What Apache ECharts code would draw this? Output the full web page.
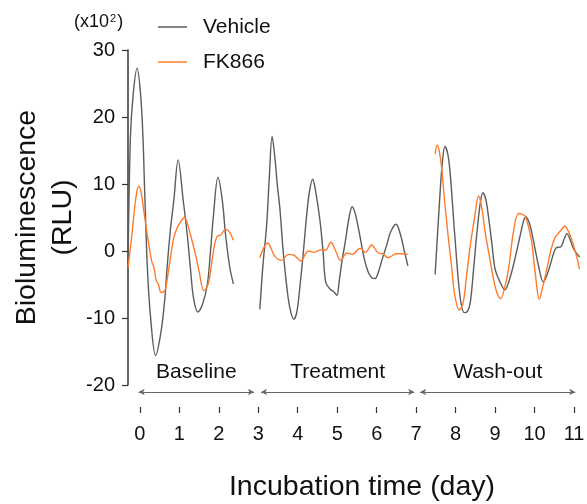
<!DOCTYPE html>
<html>
<head>
<meta charset="utf-8">
<script src="https://cdn.jsdelivr.net/npm/echarts@6/dist/echarts.min.js"></script>
<style>
  html, body { margin: 0; padding: 0; background: #fff; }
  #main { width: 587px; height: 504px; }
</style>
</head>
<body>
<div id="main"></div>
<script>
// values: [day, RLU x10^2]
var vehicleBaseline = [
  [-0.30, -2.5], [-0.24, 16.8], [-0.17, 23.3], [-0.07, 27.3], [0.02, 23.3], [0.08, 16.8],
  [0.12, 9.4], [0.19, -2.4], [0.27, -9.8], [0.40, -15.6], [0.53, -12.3], [0.63, -7.3],
  [0.69, -2.5], [0.78, 3.5], [0.86, 7.5], [0.97, 13.6], [1.10, 7.5], [1.20, 2.5],
  [1.28, -2.5], [1.36, -7.0], [1.47, -9.1], [1.58, -8.1], [1.71, -5.0], [1.79, 0.0],
  [1.86, 5.0], [1.98, 11.0], [2.09, 7.5], [2.17, 2.5], [2.28, -2.5], [2.37, -4.9]
];
var fkBaseline = [
  [-0.30, -2.5], [-0.20, 2.5], [-0.11, 7.5], [-0.03, 9.7], [0.03, 8.8], [0.10, 6.0],
  [0.20, 2.0], [0.30, -1.5], [0.36, -2.5], [0.41, -4.3], [0.47, -5.0], [0.54, -6.2],
  [0.60, -6.1], [0.65, -5.7], [0.75, -2.0], [0.86, 2.0], [0.95, 3.5], [1.05, 4.5],
  [1.13, 5.0], [1.20, 4.2], [1.28, 2.5], [1.41, -0.5], [1.50, -3.0], [1.62, -5.9],
  [1.68, -5.6], [1.75, -4.5], [1.88, 0.5], [1.96, 2.2], [2.05, 2.4], [2.17, 3.2],
  [2.25, 3.0], [2.37, 1.6]
];
var vehicleTreatment = [
  [3.04, -8.7], [3.12, -2.0], [3.21, 3.7], [3.28, 11.0], [3.35, 17.1], [3.42, 14.0],
  [3.48, 10.0], [3.55, 6.2], [3.63, 0.0], [3.72, -5.2], [3.80, -8.5], [3.90, -10.2],
  [3.98, -9.0], [4.06, -5.0], [4.14, -0.3], [4.22, 5.0], [4.30, 9.0], [4.38, 10.7],
  [4.45, 9.0], [4.56, 4.7], [4.64, 0.0], [4.71, -4.7], [4.82, -5.7], [4.90, -6.0],
  [4.99, -6.6], [5.05, -4.5], [5.12, -1.5], [5.20, 1.2], [5.30, 5.0], [5.38, 6.6],
  [5.46, 5.5], [5.55, 3.0], [5.62, 0.8], [5.70, -1.5], [5.79, -3.2], [5.88, -4.0],
  [5.96, -4.1], [6.05, -3.0], [6.15, -1.0], [6.25, 0.8], [6.35, 2.8], [6.49, 4.0],
  [6.60, 2.5], [6.70, 0.0], [6.79, -2.2]
];
var fkTreatment = [
  [3.04, -1.0], [3.14, 0.5], [3.24, 1.2], [3.33, 0.3], [3.42, -0.8], [3.59, -1.4],
  [3.76, -0.5], [3.90, -0.6], [4.08, -1.5], [4.18, -0.6], [4.27, 0.0], [4.40, -0.2],
  [4.61, 0.2], [4.70, 0.1], [4.84, 1.3], [4.96, 0.0], [5.09, -1.4], [5.24, -0.3],
  [5.38, -0.5], [5.58, 0.4], [5.72, -0.2], [5.87, 0.9], [6.04, -0.3], [6.15, -0.4],
  [6.29, -1.0], [6.50, -0.4], [6.65, -0.4], [6.79, -0.5]
];
var vehicleWashout = [
  [7.48, -3.5], [7.59, 7.2], [7.66, 13.0], [7.73, 15.6], [7.80, 14.5], [7.86, 11.7],
  [7.98, 2.2], [8.11, -6.7], [8.22, -9.2], [8.30, -9.0], [8.37, -7.7], [8.45, -3.0],
  [8.53, 2.2], [8.62, 7.0], [8.69, 8.7], [8.76, 7.8], [8.83, 5.2], [8.92, 1.0],
  [9.00, -2.7], [9.13, -4.7], [9.25, -5.8], [9.35, -4.5], [9.46, -2.2], [9.63, 2.2],
  [9.72, 4.5], [9.78, 5.1], [9.86, 4.3], [9.93, 2.7], [10.10, -2.2], [10.22, -4.6],
  [10.30, -3.8], [10.39, -2.2], [10.55, 0.5], [10.66, 0.6], [10.75, 1.8], [10.82, 2.6],
  [10.90, 1.7], [10.99, 0.3], [11.14, -0.9]
];
var fkWashout = [
  [7.48, 14.5], [7.53, 15.8], [7.58, 15.0], [7.64, 12.7], [7.72, 7.5], [7.81, 2.2],
  [7.90, -2.5], [7.98, -6.7], [8.09, -8.8], [8.19, -7.7], [8.28, -3.5], [8.37, 0.8],
  [8.48, 5.0], [8.58, 8.2], [8.66, 6.5], [8.75, 2.7], [8.86, -1.0], [8.96, -4.2],
  [9.05, -6.3], [9.14, -7.1], [9.24, -5.5], [9.34, -2.7], [9.46, 2.7], [9.59, 5.6],
  [9.68, 5.5], [9.76, 5.2], [9.85, 3.5], [9.93, 1.2], [10.02, -3.5], [10.12, -7.2],
  [10.20, -5.5], [10.31, -2.7], [10.42, 0.3], [10.52, 2.0], [10.64, 2.9], [10.77, 3.7],
  [10.85, 3.0], [10.94, 1.7], [11.05, -0.5], [11.14, -2.7]
];

// phases under the curves (day ranges of the arrows)
var phaseNames = ['Baseline', 'Treatment', 'Wash-out'];
var phaseFrom = [-0.03, 3.07, 7.10];
var phaseTo = [2.89, 6.95, 11.03];

var dayTicks = [0, 1, 2, 3, 4, 5, 6, 7, 8, 9, 10, 11];
var rluTicks = [-20, 30, 10];    // min, max, interval

var GREY = '#5c5c5c';
var ORANGE = '#ff7b2b';
var FONT = 'Liberation Sans, Arial, sans-serif';

function segment(name, color, data) {
  return {
    name: name,
    type: 'line',
    xAxisIndex: 0,
    yAxisIndex: 0,
    data: data,
    smooth: 0.35,
    showSymbol: false,
    symbol: 'none',
    color: color,
    lineStyle: { color: color, width: 1.4 },
    z: name === 'Vehicle' ? 2 : 3
  };
}

var myChart = echarts.init(document.getElementById('main'));
myChart.setOption({
  animation: false,
  textStyle: { fontFamily: FONT },
  legend: {
    data: ['Vehicle', 'FK866'],
    orient: 'vertical',
    left: 158,
    top: 16,
    padding: 0,
    icon: 'rect',
    itemWidth: 29,
    itemHeight: 1.5,
    itemGap: 13,
    textStyle: { fontSize: 21, color: '#111', fontFamily: FONT, padding: [0, 0, 0, 11], lineHeight: 22 }
  },
  graphic: [{
    type: 'text',
    left: 74,
    top: 13,
    style: {
      text: '(x10{sup|2})',
      fontSize: 18,
      fill: '#111',
      fontFamily: FONT,
      rich: { sup: { fontSize: 11, fontFamily: FONT, fill: '#111', verticalAlign: 'top', padding: [0, 1, 7, 1] } }
    }
  }],
  grid: [
    { left: 128, right: 7, top: 50, bottom: 119, outerBoundsMode: 'none' },
    { left: 128, right: 7, top: 360, bottom: 97, outerBoundsMode: 'none' }
  ],
  xAxis: [{
    gridIndex: 0,
    type: 'value',
    min: -0.3,
    max: 11.15,
    show: false
  }, {
    gridIndex: 1,
    type: 'value',
    min: -0.3,
    max: 11.15,
    position: 'bottom',
    name: 'Incubation time (day)',
    nameLocation: 'middle',
    nameGap: 66,
    nameTextStyle: { fontSize: 28.5, color: '#111', fontFamily: FONT, padding: [0, 0, 0, 16] },
    axisLine: { show: false },
    axisTick: { show: true, length: 6, customValues: dayTicks, lineStyle: { color: '#333', width: 1.2 } },
    axisLabel: { fontSize: 20, color: '#111', margin: 17, customValues: dayTicks, fontFamily: FONT },
    splitLine: { show: false }
  }],
  yAxis: [{
    gridIndex: 0,
    type: 'value',
    min: rluTicks[0],
    max: rluTicks[1],
    interval: rluTicks[2],
    name: 'Bioluminescence\n(RLU)',
    nameLocation: 'middle',
    nameRotate: 90,
    nameGap: 47,
    nameMoveOverlap: false,
    nameTextStyle: { fontSize: 28.5, color: '#111', lineHeight: 36, fontFamily: FONT },
    axisLine: { show: true, onZero: false, lineStyle: { color: '#333', width: 1.5 } },
    axisTick: { show: true, length: 6, lineStyle: { color: '#333', width: 1.2 } },
    axisLabel: { fontSize: 20, color: '#111', margin: 13, fontFamily: FONT },
    splitLine: { show: false }
  }, {
    gridIndex: 1,
    type: 'value',
    min: 0,
    max: 1,
    show: false
  }],
  series: [
    segment('Vehicle', GREY, vehicleBaseline),
    segment('Vehicle', GREY, vehicleTreatment),
    segment('Vehicle', GREY, vehicleWashout),
    segment('FK866', ORANGE, fkBaseline),
    segment('FK866', ORANGE, fkTreatment),
    segment('FK866', ORANGE, fkWashout),
    {
      name: 'phases',
      type: 'line',
      xAxisIndex: 1,
      yAxisIndex: 1,
      data: [],
      clip: false,
      markLine: {
        silent: true,
        animation: false,
        symbol: ['arrow', 'arrow'],
        symbolSize: [5, 6],
        lineStyle: { color: '#666', width: 1, type: 'solid' },
        label: {
          show: true,
          position: 'insideMiddleTop',
          distance: 9,
          formatter: '{b}',
          fontSize: 21,
          color: '#111',
          fontFamily: FONT
        },
        data: phaseNames.map(function (n, i) {
          return [
            { name: n, coord: [phaseFrom[i], 0.32] },
            { coord: [phaseTo[i], 0.32] }
          ];
        })
      }
    }
  ]
});
</script>
</body>
</html>
